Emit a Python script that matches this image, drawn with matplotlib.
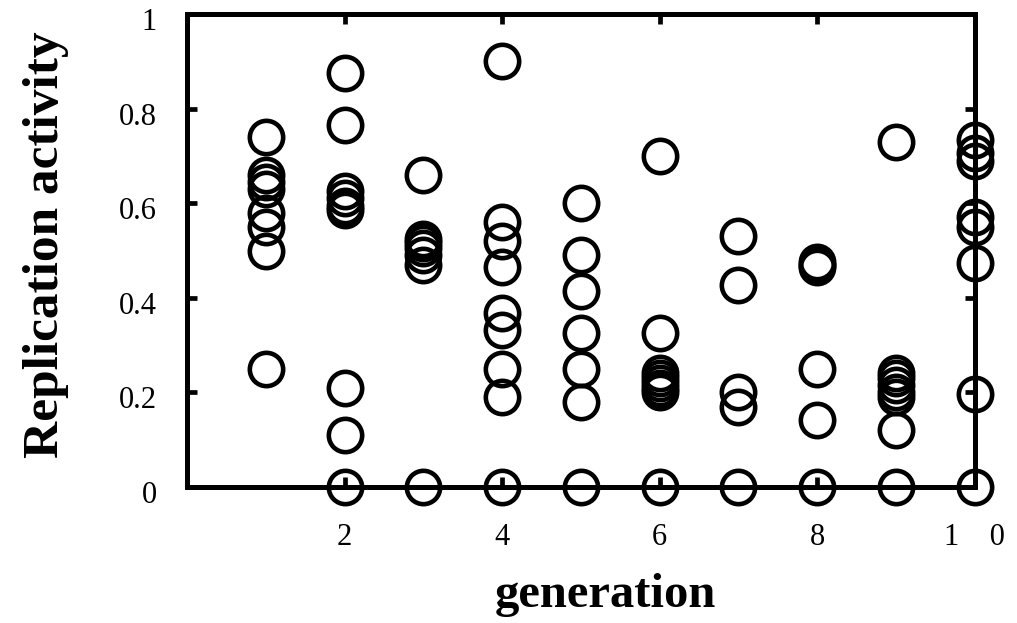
import matplotlib
matplotlib.use('Agg')
import matplotlib.pyplot as plt
import matplotlib.transforms as mtransforms

# replication activity, one list per generation
gen1 = [0.74, 0.66, 0.645, 0.63, 0.58, 0.55, 0.50, 0.25]
gen2 = [0.875, 0.765, 0.625, 0.61, 0.595, 0.585, 0.21, 0.11, 0.0]
gen3 = [0.66, 0.525, 0.515, 0.505, 0.49, 0.47, 0.0]
gen4 = [0.90, 0.56, 0.52, 0.465, 0.368, 0.332, 0.25, 0.19, 0.0]
gen5 = [0.60, 0.49, 0.415, 0.326, 0.25, 0.18, 0.0]
gen6 = [0.70, 0.326, 0.24, 0.23, 0.22, 0.21, 0.20, 0.0]
gen7 = [0.53, 0.427, 0.20, 0.17, 0.0]
gen8 = [0.475, 0.47, 0.465, 0.25, 0.142, 0.0]
gen9 = [0.73, 0.24, 0.23, 0.215, 0.20, 0.19, 0.12, 0.0]
gen10 = [0.734, 0.706, 0.69, 0.571, 0.55, 0.473, 0.197, 0.0]

columns = [gen1, gen2, gen3, gen4, gen5, gen6, gen7, gen8, gen9, gen10]

xtick_vals = [2, 4, 6, 8, 10]
xtick_labels = ['2', '4', '6', '8', '1    0']
ytick_vals = [0, 0.2, 0.4, 0.6, 0.8, 1.0]
ytick_labels = ['0', '0.2', '0.4', '0.6', '0.8', '1']

plt.rcParams['font.family'] = ['Liberation Serif', 'DejaVu Serif']

fig = plt.figure(figsize=(10.17, 6.23), dpi=100)
ax = fig.add_axes([0.184, 0.2183, 0.7745, 0.7592])

for g, vals in enumerate(columns, start=1):
    ax.plot([g] * len(vals), vals, ls='none', marker='o', ms=24,
            mfc='none', mec='black', mew=3.3, clip_on=False, zorder=3)

ax.set_xlim(0, 10)
ax.set_ylim(0, 1)
ax.set_xticks(xtick_vals)
ax.set_xticklabels(xtick_labels)
ax.set_yticks(ytick_vals)
ax.set_yticklabels(ytick_labels)

for s in ax.spines.values():
    s.set_linewidth(3.6)
ax.tick_params(direction='in', length=7, width=3.4, top=True, right=True,
               labelsize=22)
ax.tick_params(axis='x', pad=26)
ax.tick_params(axis='y', pad=22)

# reference tick labels sit a few pixels lower
shift = mtransforms.ScaledTranslation(0, -5 / 100, fig.dpi_scale_trans)
for lab in ax.get_yticklabels():
    lab.set_transform(lab.get_transform() + shift)

fig.text(605 / 1017, 1 - 595 / 623, 'generation', ha='center', va='center',
         fontsize=35, fontweight='bold')
fig.text(46 / 1017, 1 - 245 / 623, 'Replication activity', ha='center',
         va='center', rotation=90, fontsize=37, fontweight='bold')

fig.savefig('out.png', dpi=100)
